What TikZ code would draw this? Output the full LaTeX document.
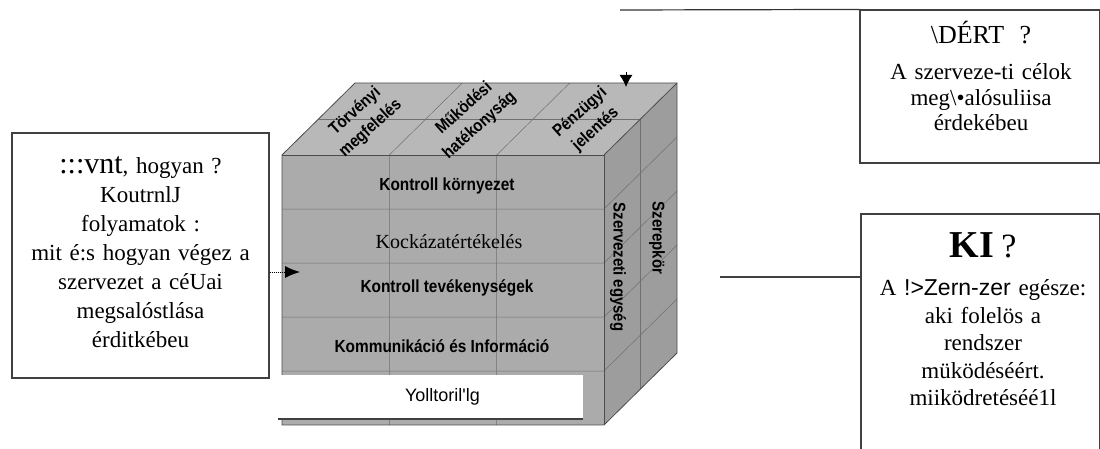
\documentclass[tikz,border=0pt]{standalone}
\usepackage{fontspec}
\setmainfont{Liberation Serif}
\setsansfont{Liberation Sans}
\newfontfamily\narrowsans{Liberation Sans}[FakeStretch=0.88]
\usetikzlibrary{arrows.meta,positioning,calc}

\definecolor{cubefront}{HTML}{ABABAB}
\definecolor{cubetop}{HTML}{B8B8B8}
\definecolor{cubeside}{HTML}{9D9D9D}
\definecolor{gridline}{HTML}{707070}

\begin{document}
\begin{tikzpicture}[x=1pt,y=1pt,
    textframe/.style={draw=black!75,line width=1.1pt},
    boxtext/.style={align=center,text width=250pt,inner sep=0pt},
    rowlabel/.style={font=\narrowsans\bfseries\fontsize{17.5}{19}\selectfont},
    toplabel/.style={font=\narrowsans\bfseries\fontsize{17}{19}\selectfont,align=center,
      inner sep=0pt,rotate=42},
    sidelabel/.style={font=\narrowsans\bfseries\fontsize{17}{19}\selectfont,rotate=-90},
    cubeedge/.style={draw=black!70,line width=0.8pt},
    cubegrid/.style={draw=gridline,line width=0.5pt}]
  \useasboundingbox (0,0) rectangle (1100,448);

  % cube corners
  \coordinate (fbl) at (282,23);
  \coordinate (fbr) at (604,23);
  \coordinate (ftr) at (604,293);
  \coordinate (ftl) at (282,293);
  \coordinate (btl) at (355,365);
  \coordinate (btr) at (677,365);
  \coordinate (bbr) at (677,95);

  % faces
  \fill[cubefront] (fbl) rectangle (ftr);
  \fill[cubetop] (ftl) -- (btl) -- (btr) -- (ftr) -- cycle;
  \fill[cubeside] (fbr) -- (bbr) -- (btr) -- (ftr) -- cycle;

  % cells
  \foreach \y in {239,185,131,77}
    \draw[cubegrid] (282,\y) -- (604,\y) -- ++(73,72);
  \foreach \x in {389.3,496.7}
    \draw[cubegrid] (\x,23) -- (\x,293) -- ++(73,72);
  \draw[cubegrid] (318.5,329) -- (640.5,329) -- (640.5,59);

  % outline
  \draw[cubeedge] (fbl) -- (ftl) -- (btl) -- (btr) -- (bbr) -- (fbr) -- cycle;
  \draw[cubeedge] (ftl) -- (ftr) -- (fbr);
  \draw[cubeedge] (ftr) -- (btr);

  % labels on the cube
  \node[rowlabel] (env) at (447,262) {Kontroll környezet};
  \node[font=\fontsize{20}{22}\selectfont] (risk) at (449,206) {Kockázatértékelés};
  \node[rowlabel] (act) at (447,160) {Kontroll tevékenységek};
  \node[rowlabel] (info) at (442,102) {Kommunikáció és Információ};

  \node[toplabel] (law) at (363,328) {Törvényi\\[4pt]megfelelés};
  \node[toplabel] (eff) at (472,331) {Működési\\[4pt]hatékonyság};
  \node[toplabel] (fin) at (588,327) {Pénzügyi\\[4pt]jelentés};

  \node[sidelabel] (unit) at (618,181) {Szervezeti egység};
  \node[sidelabel] (role) at (657,210) {Szerepkör};

  % monitoring strip
  \node[fill=white,minimum width=305pt,minimum height=44pt,inner sep=0pt,
        font=\sffamily\fontsize{18}{20}\selectfont] (yoll) at (430.5,51) {\hspace*{24pt}Yolltoril\textquotesingle lg};
  \draw[line width=2pt,black!75] (yoll.south west) -- (yoll.south east);

  % boxes
  \node[textframe,minimum width=257pt,minimum height=245pt] (howframe) at (140.5,192.5) {};
  \node[boxtext,font=\fontsize{23}{29}\selectfont] (howtext) at (140.5,195.5)
    {{\fontsize{30}{29}\selectfont :::vnt}, hogyan ?\\KoutrnlJ\\folyamatok :\\mit é:s hogyan végez a\\szervezet a céUai\\megsalóstlása\\érditkébeu};

  \node[textframe,minimum width=239.5pt,minimum height=153pt] (whyframe) at (979.75,361.5) {};
  \node[boxtext,text width=230pt,font=\fontsize{23}{25.5}\selectfont] (whytext) at (981,372)
    {{\fontsize{26}{25.5}\selectfont \textbackslash DÉRT\ \ ?}\\[11pt]A szerveze-ti célok\\meg\textbackslash•alósuliisa\\érdekébeu};

  \node[textframe,minimum width=238.5pt,minimum height=238pt] (whoframe) at (980.25,115) {};
  \node[boxtext,text width=230pt,font=\fontsize{23}{27.5}\selectfont] (whotext) at (983,129)
    {{\fontsize{38}{27.5}\selectfont\bfseries KI} {\fontsize{34}{27.5}\selectfont ?}\\[11pt]A {\sffamily !>Zern-zer} egésze:\\aki folelös a\\rendszer\\müködéséért.\\miiködretéséé1l};

  % connectors
  \coordinate (topstart) at (620,438);
  \draw[line width=1.2pt,black!80] (topstart) -- (whyframe.north west);
  \coordinate (tiptop) at (626,376);
  \coordinate (tipbot) at (626,361);
  \draw[line width=1pt,-{Latex[length=12pt,width=13pt]}] (tiptop) -- (tipbot);

  \coordinate (howend) at (300,176);
  \draw[densely dotted,line width=1pt,-{Latex[length=15pt,width=12pt]}] (howend -| howframe.east) -- (howend);

  \coordinate (whostart) at (720,171);
  \draw[line width=1.1pt,black!75] (whostart) -- (whostart -| whoframe.west);
\end{tikzpicture}
\end{document}
